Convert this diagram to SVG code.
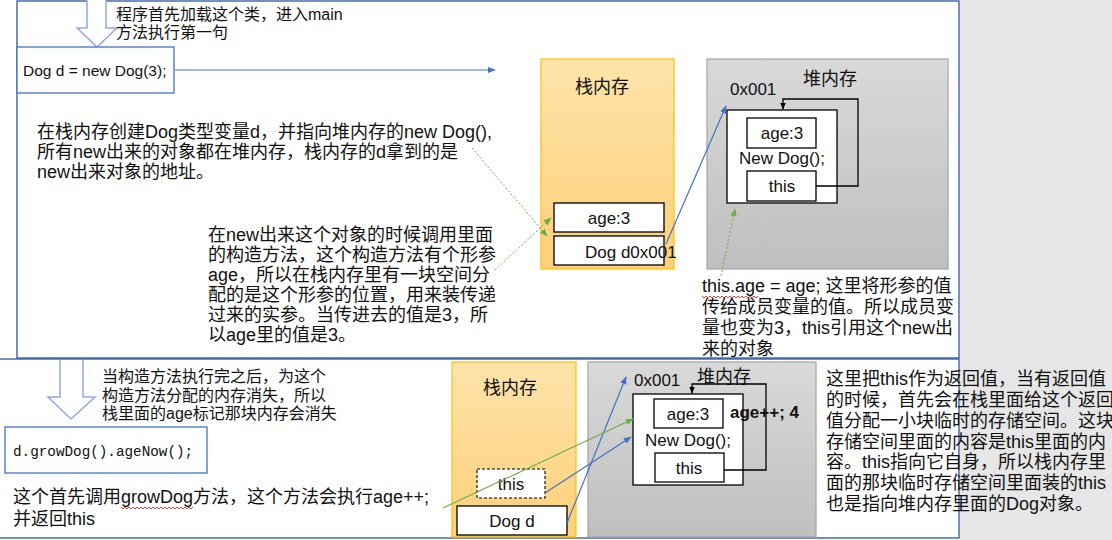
<svg xmlns="http://www.w3.org/2000/svg" width="1112" height="540" viewBox="0 0 1112 540">
<defs>
<linearGradient id="gStack" x1="0" y1="0" x2="0" y2="1"><stop offset="0" stop-color="#fee4aa"/><stop offset="1" stop-color="#fdd07a"/></linearGradient>
<linearGradient id="gHeap" x1="0" y1="0" x2="0" y2="1"><stop offset="0" stop-color="#d9d9d9"/><stop offset="1" stop-color="#bfbfbf"/></linearGradient>
<marker id="mBlue" viewBox="0 0 10 10" refX="9" refY="5" markerWidth="8" markerHeight="8" markerUnits="userSpaceOnUse" orient="auto"><path d="M0,1 L10,5 L0,9 z" fill="#4472c4"/></marker>
<marker id="mGreen" viewBox="0 0 10 10" refX="9" refY="5" markerWidth="8" markerHeight="8" markerUnits="userSpaceOnUse" orient="auto"><path d="M0,1 L10,5 L0,9 z" fill="#70ad47"/></marker>
<marker id="mBlack" viewBox="0 0 10 10" refX="9" refY="5" markerWidth="7" markerHeight="7" markerUnits="userSpaceOnUse" orient="auto"><path d="M0,1 L10,5 L0,9 z" fill="#000"/></marker>
</defs>
<style>
.t{font-family:"Liberation Sans","Noto Sans CJK SC",sans-serif;fill:#111}
.big{font-size:18px}
.small{font-size:16px}
.lbl{font-size:17px}
.mono{font-family:"Liberation Mono",monospace;font-size:14.3px;fill:#111}
.box{fill:#fff;stroke:#000;stroke-width:1.3}
.hollow{fill:#fff;stroke:#8faadc;stroke-width:1.5}
.blue{fill:none;stroke:#4472c4;stroke-width:1.2}
.green{fill:none;stroke:#70ad47;stroke-width:1.2}
.gdot{fill:none;stroke:#70ad47;stroke-width:1;stroke-dasharray:2 2}
.blk{fill:none;stroke:#000;stroke-width:1.3}
.squig{fill:none;stroke:#e03030;stroke-width:0.9}
</style>
<rect x="0" y="0" width="1112" height="540" fill="#fff"/>
<rect x="960" y="0" width="152" height="540" fill="#e6e6e6"/>
<g id="panel-top">
<rect x="17" y="1" width="942" height="357" fill="#fff" stroke="#2f5597" stroke-width="1.3"/>
</g>
<g id="panel-bottom">
<rect x="-2" y="359" width="961" height="179" fill="#fff" stroke="#2f5597" stroke-width="1.3"/>
</g>

<g id="arrow-start">
<path class="hollow" d="M87,-1 V28 H77 L97,47 L117,28 H106 V-1"/>
<text class="t small" x="116" y="20">程序首先加载这个类，进入main</text>
<text class="t small" x="116" y="38">方法执行第一句</text>
</g>
<g id="stmt1">
<rect x="17" y="47" width="157" height="46" fill="#fff" stroke="#4472c4" stroke-width="1.3"/>
<text class="t" font-size="15.5" x="23" y="76">Dog d = new Dog(3);</text>
</g>
<g id="note1">
<text class="t big" x="37" y="138">在栈内存创建Dog类型变量d，并指向堆内存的new Dog(),</text>
<text class="t big" x="37" y="158">所有new出来的对象都在堆内存，栈内存的d拿到的是</text>
<text class="t big" x="37" y="178">new出来对象的地址。</text>
</g>
<g id="note2">
<text class="t big" x="208" y="241">在new出来这个对象的时候调用里面</text>
<text class="t big" x="208" y="261">的构造方法，这个构造方法有个形参</text>
<text class="t big" x="208" y="281">age，所以在栈内存里有一块空间分</text>
<text class="t big" x="208" y="301">配的是这个形参的位置，用来装传递</text>
<text class="t big" x="208" y="321">过来的实参。当传进去的值是3，所</text>
<text class="t big" x="208" y="341">以age里的值是3。</text>
</g>
<g id="stack1">
<rect x="541" y="59" width="133" height="210" fill="url(#gStack)" stroke="#ffc000" stroke-width="1.2"/>
<text class="t big" x="575" y="93">栈内存</text>
<rect class="box" x="554" y="203" width="110" height="29"/>
<text class="t lbl" x="609" y="218" text-anchor="middle" dominant-baseline="central">age:3</text>
<rect class="box" x="554" y="236" width="110" height="29"/>
<text class="t lbl" x="585" y="252" dominant-baseline="central">Dog d0x001</text>
</g>
<g id="heap1">
<rect x="707" y="59" width="241" height="210" fill="url(#gHeap)" stroke="#a5a5a5" stroke-width="1.2"/>
<text class="t big" x="803" y="85">堆内存</text>
<text class="t lbl" x="730" y="89" dominant-baseline="central">0x001</text>
<rect class="box" x="727" y="110" width="110" height="93"/>
<rect class="box" x="747" y="118" width="69" height="30"/>
<text class="t lbl" x="782" y="133" text-anchor="middle" dominant-baseline="central">age:3</text>
<text class="t lbl" x="782" y="158" text-anchor="middle" dominant-baseline="central">New Dog();</text>
<rect class="box" x="747" y="171" width="69" height="30"/>
<text class="t lbl" x="782" y="186" text-anchor="middle" dominant-baseline="central">this</text>
</g>
<g id="note3">
<text class="t big" x="702" y="292">this.age = age; 这里将形参的值</text>
<text class="t big" x="702" y="313">传给成员变量的值。所以成员变</text>
<text class="t big" x="702" y="334">量也变为3，this引用这个new出</text>
<text class="t big" x="702" y="355">来的对象</text>
<path class="squig" d="M702,296 l2,2 l2,-2 l2,2 l2,-2 l2,2 l2,-2 l2,2 l2,-2 l2,2 l2,-2 l2,2 l2,-2 l2,2 l2,-2 l2,2 l2,-2 l2,2 l2,-2 l2,2 l2,-2 l2,2 l2,-2 l2,2 l2,-2 l2,2 l2,-2 l2,2 l2,-2"/>
</g>

<g id="arrow-second">
<path class="hollow" d="M60,360 V397 H48 L71,419 L95,397 H83 V360"/>
<text class="t small" x="102" y="382">当构造方法执行完之后，为这个</text>
<text class="t small" x="102" y="400.5">构造方法分配的内存消失，所以</text>
<text class="t small" x="102" y="419">栈里面的age标记那块内存会消失</text>
</g>
<g id="stmt2">
<rect x="5" y="427" width="202" height="46" fill="#fff" stroke="#4472c4" stroke-width="1.3"/>
<text class="mono" x="13" y="456">d.growDog().ageNow();</text>
</g>
<g id="note4">
<text class="t big" x="13" y="503">这个首先调用growDog方法，这个方法会执行age++;</text>
<text class="t big" x="13" y="525">并返回this</text>
<path class="squig" d="M121,507 l2,2 l2,-2 l2,2 l2,-2 l2,2 l2,-2 l2,2 l2,-2 l2,2 l2,-2 l2,2 l2,-2 l2,2 l2,-2 l2,2 l2,-2 l2,2 l2,-2 l2,2 l2,-2 l2,2 l2,-2 l2,2 l2,-2 l2,2 l2,-2 l2,2 l2,-2 l2,2 l2,-2 l2,2 l2,-2 l2,2 l2,-2 l2,2 l2,-2"/>
</g>
<g id="stack2">
<rect x="452" y="362" width="124" height="175" fill="url(#gStack)" stroke="#ffc000" stroke-width="1.2"/>
<text class="t big" x="483" y="394">栈内存</text>
<rect x="477" y="469" width="68" height="29" fill="#fff" stroke="#000" stroke-width="1.1" stroke-dasharray="3 2"/>
<text class="t lbl" x="511" y="484" text-anchor="middle" dominant-baseline="central">this</text>
<rect class="box" x="457" y="506" width="110" height="29"/>
<text class="t lbl" x="512" y="521" text-anchor="middle" dominant-baseline="central">Dog d</text>
</g>
<g id="heap2">
<rect x="588" y="362" width="228" height="175" fill="url(#gHeap)" stroke="#a5a5a5" stroke-width="1.2"/>
<text class="t lbl" x="634" y="380" dominant-baseline="central">0x001</text>
<text class="t big" x="697" y="383">堆内存</text>
<rect class="box" x="633" y="394" width="110" height="91"/>
<rect class="box" x="654" y="399" width="69" height="29"/>
<text class="t lbl" x="688" y="414" text-anchor="middle" dominant-baseline="central">age:3</text>
<text class="t lbl" x="688" y="440" text-anchor="middle" dominant-baseline="central">New Dog();</text>
<rect class="box" x="655" y="453" width="69" height="29"/>
<text class="t lbl" x="689" y="468" text-anchor="middle" dominant-baseline="central">this</text>
<text class="t" font-size="17" font-weight="bold" x="730" y="412" dominant-baseline="central">age++; 4</text>
</g>
<g id="note5">
<text class="t big" x="826" y="385">这里把this作为返回值，当有返回值</text>
<text class="t big" x="826" y="406">的时候，首先会在栈里面给这个返回</text>
<text class="t big" x="826" y="427">值分配一小块临时的存储空间。这块</text>
<text class="t big" x="826" y="448">存储空间里面的内容是this里面的内</text>
<text class="t big" x="826" y="468">容。this指向它自身，所以栈内存里</text>
<text class="t big" x="826" y="489">面的那块临时存储空间里面装的this</text>
<text class="t big" x="826" y="510">也是指向堆内存里面的Dog对象。</text>
</g>

<g id="connectors">
<line class="blue" x1="175" y1="70" x2="495" y2="70" marker-end="url(#mBlue)"/>
<line class="blue" x1="666" y1="244" x2="726" y2="106" marker-end="url(#mBlue)"/>
<line class="gdot" x1="472" y1="148" x2="547" y2="236" marker-end="url(#mGreen)"/>
<line class="gdot" x1="495" y1="270" x2="551" y2="218" marker-end="url(#mGreen)"/>
<line class="gdot" x1="721" y1="276" x2="735" y2="209" marker-end="url(#mGreen)"/>
<polyline class="blk" points="816,186 858,186 858,99 783,99 783,109" marker-end="url(#mBlack)"/>
<line class="blue" x1="567" y1="523" x2="626" y2="377" marker-end="url(#mBlue)"/>
<line class="blue" x1="545" y1="493" x2="631" y2="437" marker-end="url(#mBlue)"/>
<line class="green" x1="443" y1="508" x2="633" y2="419" marker-end="url(#mGreen)"/>
<polyline class="blk" points="724,470 766,470 766,384 692,384 692,393" marker-end="url(#mBlack)"/>
</g>
</svg>
